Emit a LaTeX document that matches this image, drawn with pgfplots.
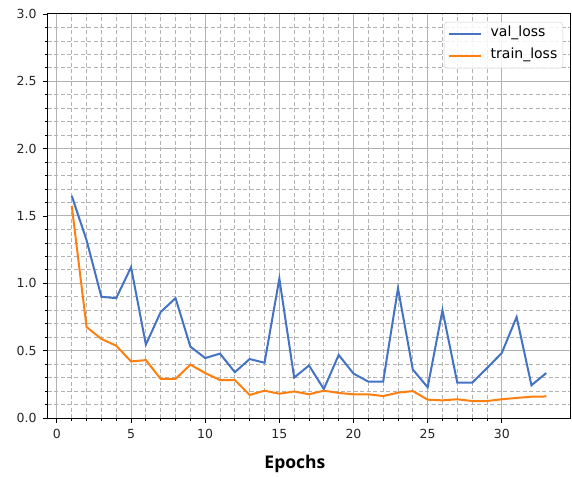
\documentclass[border=0pt]{standalone}
\usepackage{fontspec}
\setmainfont{DejaVu Sans}
\newfontfamily\epfont{Open Sans}
\usepackage{pgfplots}
\pgfplotsset{compat=1.18}
\definecolor{vblue}{RGB}{68,114,196}
\definecolor{torange}{RGB}{255,127,14}
\begin{document}
\begin{tikzpicture}
\useasboundingbox (-48pt,-58pt) rectangle (524pt,418pt);
\begin{axis}[
  at={(0pt,0pt)}, anchor=south west,
  scale only axis, width=522pt, height=404pt,
  xmin=-0.6, xmax=34.6, ymin=0, ymax=3,
  xtick={0,5,10,15,20,25,30},
  ytick={0,0.5,1,1.5,2,2.5,3},
  minor x tick num=4,
  minor y tick num=4,
  tick align=outside,
  xtick pos=bottom, ytick pos=left,
  major tick length=5pt, minor tick length=3pt,
  every tick/.style={black, line width=0.8pt},
  grid=both,
  major grid style={draw=black!30, line width=1pt},
  minor grid style={draw=black!30, line width=0.8pt, dash pattern=on 4pt off 2.5pt},
  axis line style={black, line width=1pt},
  /pgf/number format/assume math mode=true,
  ticklabel style={font=\fontsize{12.5}{14}\selectfont, text=black!85},
  yticklabel style={/pgf/number format/fixed, /pgf/number format/fixed zerofill, /pgf/number format/precision=1, xshift=-3pt},
  xticklabel style={yshift=-3pt},
  xlabel={\epfont\bfseries Epochs},
  xlabel style={at={(axis description cs:0.473,0)}, anchor=center, yshift=-46pt, font=\fontsize{17.5}{20}\selectfont},
  legend style={at={(1,1)}, anchor=north east, xshift=-7pt, yshift=-8pt,
    draw=black!20, rounded corners=3pt, fill=white, fill opacity=0.85, text opacity=1,
    font=\fontsize{14}{16}\selectfont, inner xsep=3.5pt, inner ysep=5pt,
    row sep=8pt, column sep=7pt, nodes={inner sep=2pt, text depth=0.25em, text height=0.75em}},
  legend cell align=left,
  legend image code/.code={\draw[#1, line width=2pt] (0pt,0pt) -- (32pt,0pt);},
]
\addplot[vblue, line width=2pt] coordinates {
(1,1.65) (2,1.32) (3,0.90) (4,0.89) (5,1.12) (6,0.545) (7,0.787) (8,0.89)
(9,0.53) (10,0.445) (11,0.478) (12,0.34) (13,0.438) (14,0.41) (15,1.035)
(16,0.30) (17,0.39) (18,0.215) (19,0.468) (20,0.33) (21,0.27) (22,0.27)
(23,0.963) (24,0.36) (25,0.228) (26,0.80) (27,0.262) (28,0.262) (29,0.37)
(30,0.483) (31,0.75) (32,0.243) (33,0.334)};
\addlegendentry{val\_loss}
\addplot[torange, line width=2pt] coordinates {
(1,1.576) (2,0.676) (3,0.587) (4,0.537) (5,0.42) (6,0.43) (7,0.29) (8,0.29)
(9,0.396) (10,0.334) (11,0.282) (12,0.282) (13,0.171) (14,0.203) (15,0.18)
(16,0.197) (17,0.176) (18,0.203) (19,0.186) (20,0.176) (21,0.176) (22,0.163)
(23,0.188) (24,0.20) (25,0.136) (26,0.131) (27,0.139) (28,0.126) (29,0.126)
(30,0.139) (31,0.149) (32,0.158) (33,0.16)};
\addlegendentry{train\_loss}
\end{axis}
\end{tikzpicture}
\end{document}
